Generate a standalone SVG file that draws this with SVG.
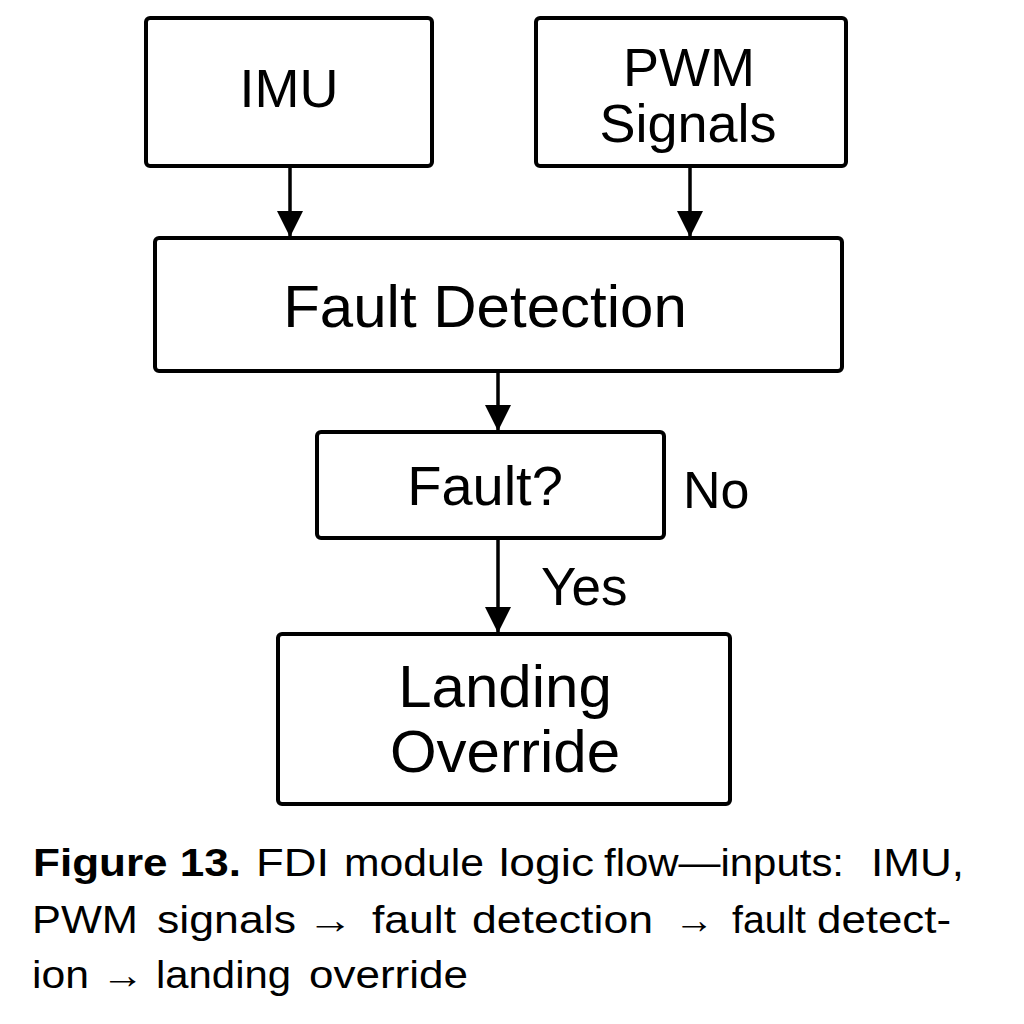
<svg xmlns="http://www.w3.org/2000/svg" width="1024" height="1024" viewBox="0 0 1024 1024">
<style>
.box{fill:#fff;stroke:#000;stroke-width:4}
.t{font-family:"Liberation Sans",Arial,sans-serif;fill:#000;text-anchor:middle}
.lbl{font-family:"Liberation Sans",Arial,sans-serif;fill:#000}
.cap{font-family:"Liberation Sans",Arial,sans-serif;fill:#000;font-size:38px}
.b{font-weight:bold}
.edge{stroke:#000;stroke-width:3.5;fill:none}
</style>
<defs>
<marker id="ah" viewBox="0 0 10 10" refX="10" refY="5" markerWidth="7.5" markerHeight="7.5" markerUnits="strokeWidth" orient="auto">
<path d="M0,0 L10,5 L0,10 Z" fill="#000"/>
</marker>
</defs>
<rect width="1024" height="1024" fill="#fff"/>
<g id="connectors">
<line class="edge" x1="290" y1="166" x2="290" y2="237" marker-end="url(#ah)"/>
<line class="edge" x1="690" y1="166" x2="690" y2="237" marker-end="url(#ah)"/>
<line class="edge" x1="498" y1="371" x2="498" y2="431" marker-end="url(#ah)"/>
<line class="edge" x1="498" y1="538" x2="498" y2="633" marker-end="url(#ah)"/>
<text class="lbl" x="683" y="508" font-size="52">No</text>
<text class="lbl" x="541" y="605" font-size="53">Yes</text>
</g>
<g id="imu">
<rect class="box" x="146" y="18" width="286" height="148" rx="4"/>
<text class="t" x="289" y="107" font-size="54">IMU</text>
</g>
<g id="pwm">
<rect class="box" x="536" y="18" width="310" height="148" rx="4"/>
<text class="t" x="689" y="86" font-size="54">PWM</text>
<text class="t" x="688" y="142" font-size="54">Signals</text>
</g>
<g id="fault-detection">
<rect class="box" x="155" y="238" width="687" height="133" rx="4"/>
<text class="t" x="485" y="327" font-size="60">Fault Detection</text>
</g>
<g id="fault-decision">
<rect class="box" x="317" y="432" width="347" height="106" rx="4"/>
<text class="t" x="485" y="505" font-size="56">Fault?</text>
</g>
<g id="landing-override">
<rect class="box" x="278" y="634" width="452" height="170" rx="4"/>
<text class="t" x="505" y="707" font-size="60">Landing</text>
<text class="t" x="505" y="772" font-size="60">Override</text>
</g>
<g id="caption">
<text class="cap b" x="33" y="876" textLength="208" lengthAdjust="spacingAndGlyphs">Figure 13.</text>
<text class="cap" x="256" y="876" textLength="73" lengthAdjust="spacingAndGlyphs">FDI</text>
<text class="cap" x="344" y="876" textLength="140" lengthAdjust="spacingAndGlyphs">module</text>
<text class="cap" x="499" y="876" textLength="95" lengthAdjust="spacingAndGlyphs">logic</text>
<text class="cap" x="604" y="876" textLength="240" lengthAdjust="spacingAndGlyphs">flow—inputs:</text>
<text class="cap" x="871" y="876" textLength="93" lengthAdjust="spacingAndGlyphs">IMU,</text>
<text class="cap" x="32" y="933" textLength="106" lengthAdjust="spacingAndGlyphs">PWM</text>
<text class="cap" x="157" y="933" textLength="139" lengthAdjust="spacingAndGlyphs">signals</text>
<text class="cap" x="307" y="933" textLength="46" lengthAdjust="spacingAndGlyphs">→</text>
<text class="cap" x="372" y="933" textLength="84" lengthAdjust="spacingAndGlyphs">fault</text>
<text class="cap" x="472" y="933" textLength="181" lengthAdjust="spacingAndGlyphs">detection</text>
<text class="cap" x="674" y="933" textLength="40" lengthAdjust="spacingAndGlyphs">→</text>
<text class="cap" x="732" y="933" textLength="74" lengthAdjust="spacingAndGlyphs">fault</text>
<text class="cap" x="817" y="933" textLength="134" lengthAdjust="spacingAndGlyphs">detect-</text>
<text class="cap" x="32" y="988" textLength="57" lengthAdjust="spacingAndGlyphs">ion</text>
<text class="cap" x="101" y="988" textLength="43" lengthAdjust="spacingAndGlyphs">→</text>
<text class="cap" x="156" y="988" textLength="135" lengthAdjust="spacingAndGlyphs">landing</text>
<text class="cap" x="309" y="988" textLength="159" lengthAdjust="spacingAndGlyphs">override</text>
</g>
</svg>
